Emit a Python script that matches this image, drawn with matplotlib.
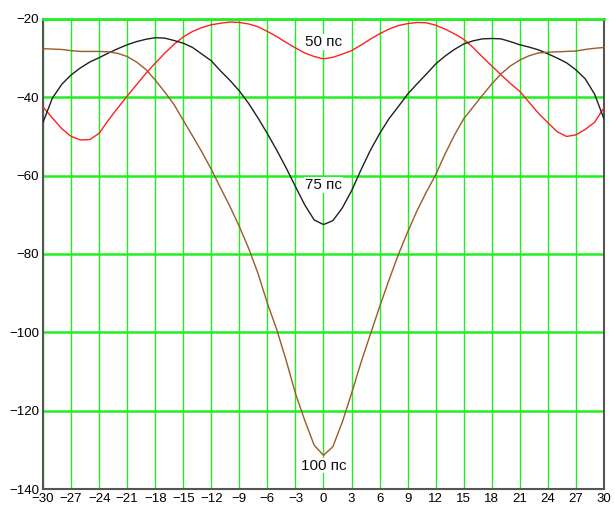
import numpy as np
import matplotlib
matplotlib.use("Agg")
import matplotlib.pyplot as plt

plt.rcParams["font.family"] = ["Liberation Sans", "DejaVu Sans"]

# angle values, step 1
x = np.arange(-30, 31, 1)

pulse_50 = [
    -42.5, -45.3, -48.0, -50.0, -50.9, -50.8, -49.2, -45.8, -42.7, -39.7,
    -36.8, -33.9, -31.3, -28.8, -26.5, -24.6, -23.2, -22.2, -21.5, -21.1,
    -20.8, -20.9, -21.3, -22.0, -23.2, -24.5, -26.0, -27.4, -28.7, -29.6,
    -30.2,
    -29.8, -29.0, -28.1, -26.7, -25.2, -23.8, -22.6, -21.7, -21.2, -20.9,
    -21.0, -21.6, -22.6, -23.8, -25.2, -27.3, -29.7, -32.0, -34.3, -36.5,
    -38.5, -41.3, -44.1, -46.5, -48.8, -50.0, -49.6, -48.2, -46.4, -42.7,
]

pulse_75 = [
    -46.4, -40.2, -36.7, -34.3, -32.5, -31.0, -29.9, -28.7, -27.6, -26.6,
    -25.8, -25.2, -24.8, -24.9, -25.5, -26.2, -27.3, -29.0, -30.7, -33.3,
    -35.7, -38.4, -41.6, -45.3, -49.3, -53.5, -58.0, -62.8, -67.5, -71.3,
    -72.5,
    -71.5, -68.3, -63.9, -58.6, -53.6, -49.3, -45.5, -42.4, -39.2, -36.6,
    -34.1, -31.5, -29.5, -27.8, -26.4, -25.6, -25.1, -25.0, -25.1, -25.8,
    -26.6, -27.2, -27.9, -28.9, -30.0, -31.2, -33.0, -35.3, -39.2, -45.5,
]

pulse_100 = [
    -27.6, -27.7, -27.8, -28.1, -28.3, -28.3, -28.3, -28.4, -28.8, -29.6,
    -31.0, -32.9, -35.6, -38.6, -41.8, -45.9, -49.9, -54.0, -58.4, -63.2,
    -67.9, -73.0, -78.6, -85.0, -92.6, -99.3, -107.1, -115.6, -122.5, -128.8,
    -131.4,
    -129.2, -123.0, -115.6, -107.8, -100.6, -93.5, -86.7, -80.2, -74.4, -69.0,
    -64.2, -59.8, -54.5, -49.7, -45.5, -42.5, -39.5, -36.6, -34.0, -32.0,
    -30.5, -29.4, -28.7, -28.5, -28.4, -28.3, -28.2, -27.8, -27.5, -27.3,
]

labels = ["50 пс", "75 пс", "100 пс"]
label_y = [-25.9, -62.4, -134.0]

x_ticks = np.arange(-30, 31, 3)
y_ticks = np.arange(-140, -19, 20)

fig = plt.figure(figsize=(6.15, 5.11), dpi=100)
ax = fig.add_axes([0.070, 0.043, 0.912, 0.920])

green = "#22ee22"
for xv in x_ticks:
    ax.axvline(xv, color=green, lw=1.0, zorder=1)
for yv in y_ticks:
    ax.axhline(yv, color=green, lw=1.8, zorder=1)

ax.plot(x, pulse_50, color="#ff2020", lw=1.0, zorder=3)
ax.plot(x, pulse_75, color="#202020", lw=1.0, zorder=3)
ax.plot(x, pulse_100, color="#9a5a2a", lw=1.0, zorder=3)

for lab, ly in zip(labels, label_y):
    ax.text(0, ly, lab, ha="center", va="center", fontsize=11,
            color="#111111", zorder=4,
            bbox=dict(facecolor="white", edgecolor="none", pad=0.6))

ax.set_xlim(-30, 30)
ax.set_ylim(-140, -20)
ax.set_xticks(x_ticks)
ax.set_yticks(y_ticks)
ax.set_xticklabels([str(v).replace("-", "\u2212") for v in x_ticks])
ax.set_yticklabels([str(v).replace("-", "\u2212") for v in y_ticks])
ax.tick_params(length=0, labelsize=9.5, pad=3)

for side in ["left", "bottom", "right"]:
    ax.spines[side].set_color("#555555")
    ax.spines[side].set_linewidth(1.5)
ax.spines["top"].set_color(green)
ax.spines["top"].set_linewidth(2)

fig.savefig("out.png", dpi=100)
